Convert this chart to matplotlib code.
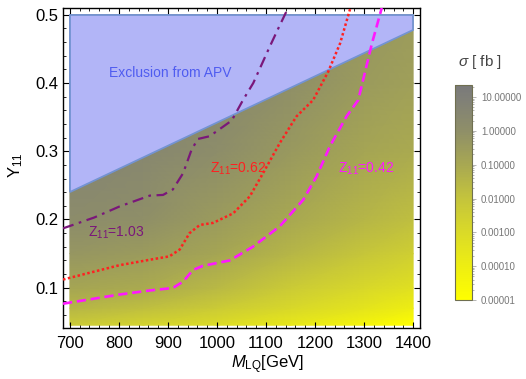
#!/usr/bin/env python3
"""Cross-section map in the (M_LQ, Y_11) plane with APV exclusion and Z_11 contours."""

import matplotlib

matplotlib.use("Agg")
import matplotlib.pyplot as plt
import numpy as np
from matplotlib.colors import LinearSegmentedColormap, LogNorm
from matplotlib.patches import Polygon
from matplotlib.ticker import FixedLocator, FormatStrFormatter, MultipleLocator

plt.rcParams["font.family"] = ["Liberation Sans", "DejaVu Sans"]
plt.rcParams["mathtext.fontset"] = "custom"
plt.rcParams["mathtext.rm"] = "Liberation Sans"
plt.rcParams["mathtext.it"] = "Liberation Sans:italic"

# log10(sigma / fb) on a coarse (Y, M) grid
mass_nodes = [700, 850, 1000, 1150, 1300, 1400]
yuk_nodes = [0.045, 0.07, 0.1, 0.15, 0.2, 0.3, 0.4, 0.5]
log_sigma = [
    # M=700  850   1000  1150  1300  1400
    [-2.3, -2.7, -3.1, -3.7, -4.4, -5.0],   # Y=0.045
    [-1.5, -1.8, -2.3, -2.9, -3.5, -4.0],   # Y=0.07
    [-0.9, -1.1, -1.6, -2.3, -2.9, -3.3],   # Y=0.10
    [-0.3, -0.5, -0.9, -1.5, -2.1, -2.5],   # Y=0.15
    [0.2, 0.0, -0.5, -1.0, -1.5, -1.8],     # Y=0.20
    [0.7, 0.5, 0.1, -0.4, -0.9, -1.1],      # Y=0.30
    [1.0, 0.8, 0.4, 0.0, -0.5, -0.7],       # Y=0.40
    [1.2, 1.0, 0.6, 0.2, -0.3, -0.5],       # Y=0.50
]

# APV exclusion boundary
apv_mass = [700, 700, 1400, 1400]
apv_yuk = [0.24, 0.5, 0.5, 0.478]

# Z_11 contours
z103_mass = [686, 750, 801, 863, 890, 910, 931, 948, 961, 985, 1030, 1053, 1074, 1108, 1125, 1145]
z103_yuk = [0.187, 0.203, 0.219, 0.235, 0.236, 0.244, 0.268, 0.302, 0.318, 0.322, 0.345, 0.375,
            0.400, 0.454, 0.480, 0.510]
z062_mass = [686, 801, 863, 903, 924, 944, 965, 992, 1033, 1067, 1094, 1128, 1162, 1196, 1227, 1251, 1272]
z062_yuk = [0.112, 0.133, 0.141, 0.146, 0.156, 0.180, 0.192, 0.195, 0.209, 0.234, 0.268, 0.312,
            0.351, 0.375, 0.417, 0.458, 0.510]
z042_mass = [686, 801, 863, 910, 931, 951, 971, 1026, 1073, 1128, 1176, 1203, 1230, 1264, 1288, 1316, 1336]
z042_yuk = [0.0766, 0.090, 0.096, 0.0996, 0.109, 0.126, 0.132, 0.140, 0.160, 0.190, 0.229, 0.263,
            0.307, 0.351, 0.375, 0.458, 0.510]

cbar_ticks = [1e-5, 1e-4, 1e-3, 1e-2, 1e-1, 1, 10]
sigma_min, sigma_max = 1e-5, 22.6

cmap = LinearSegmentedColormap.from_list(
    "yellow_gray",
    [
        (0.0, "#ffff00"),
        (1 / 6.355, "#eeee12"),
        (2 / 6.355, "#dada28"),
        (3 / 6.355, "#c4c43c"),
        (4 / 6.355, "#a8a852"),
        (5 / 6.355, "#8f8f68"),
        (6 / 6.355, "#7f7f78"),
        (1.0, "#7a7a7a"),
    ],
)

fig = plt.figure(figsize=(5.26, 3.79), dpi=100)
ax = fig.add_axes([0.1198, 0.1346, 0.6787, 0.8444])
cax = fig.add_axes([0.865, 0.2084, 0.032, 0.5673])

mm, yy = np.meshgrid(mass_nodes, yuk_nodes)
mesh = ax.pcolormesh(mm, yy, 10.0 ** np.array(log_sigma), cmap=cmap,
                     norm=LogNorm(sigma_min, sigma_max), shading="gouraud", zorder=1)

ax.add_patch(Polygon(np.column_stack([apv_mass, apv_yuk]), closed=True,
                     facecolor="#b2b5f7", edgecolor="#7393d2", linewidth=1.3, zorder=2))

ax.plot(z103_mass, z103_yuk, color="#7a177a", lw=1.6, ls=(0, (5, 2.5, 1.2, 2.5)), zorder=3)
ax.plot(z062_mass, z062_yuk, color="#ff2020", lw=1.8, ls=(0, (1, 1)), zorder=3)
ax.plot(z042_mass, z042_yuk, color="#ff18ff", lw=1.9, ls=(0, (3.5, 1.8)), zorder=3)

ax.text(904, 0.415, "Exclusion from APV", color="#4f5cf0", fontsize=10, ha="center", va="center", zorder=4)
ax.text(795, 0.18, r"$\mathrm{Z}_{11}$=1.03", color="#7a177a", fontsize=10, ha="center", va="center", zorder=4)
ax.text(1043, 0.275, r"$\mathrm{Z}_{11}$=0.62", color="#ff2020", fontsize=10, ha="center", va="center", zorder=4)
ax.text(1305, 0.275, r"$\mathrm{Z}_{11}$=0.42", color="#ff18ff", fontsize=10, ha="center", va="center", zorder=4)

ax.set_xlim(686, 1414)
ax.set_ylim(0.041, 0.51)
ax.xaxis.set_major_locator(MultipleLocator(100))
ax.xaxis.set_minor_locator(MultipleLocator(20))
ax.yaxis.set_major_locator(FixedLocator([0.1, 0.2, 0.3, 0.4, 0.5]))
ax.yaxis.set_minor_locator(MultipleLocator(0.02))
ax.tick_params(which="both", direction="in", top=True, right=True, labelsize=12)
ax.tick_params(which="major", length=4, width=0.8)
ax.tick_params(which="minor", length=2.5, width=0.6)
ax.tick_params(axis="x", pad=6)
ax.tick_params(axis="y", pad=3)
for spine in ax.spines.values():
    spine.set_linewidth(1.0)

ax.text(0.574, -0.116, r"$M_{\mathrm{LQ}}$[GeV]", transform=ax.transAxes, fontsize=12,
        ha="center", va="center")
ax.text(-0.134, 0.509, r"$\mathrm{Y}_{11}$", transform=ax.transAxes, fontsize=12,
        ha="center", va="center", rotation=90)

cb = fig.colorbar(mesh, cax=cax)
cb.set_ticks(cbar_ticks)
cb.ax.yaxis.set_major_formatter(FormatStrFormatter("%.5f"))
cb.ax.tick_params(which="both", labelsize=7, labelcolor="#777777", color="#aaaaaa", width=0.6)
cb.ax.tick_params(which="major", length=3)
cb.ax.tick_params(which="minor", length=1.5)
cb.outline.set_edgecolor("#6f6f50")
cb.outline.set_linewidth(0.8)
fig.text(0.912, 0.836, r"$\sigma$ [ fb ]", fontsize=11, color="#444444", ha="center", va="center")

fig.savefig("out.png", dpi=100)
